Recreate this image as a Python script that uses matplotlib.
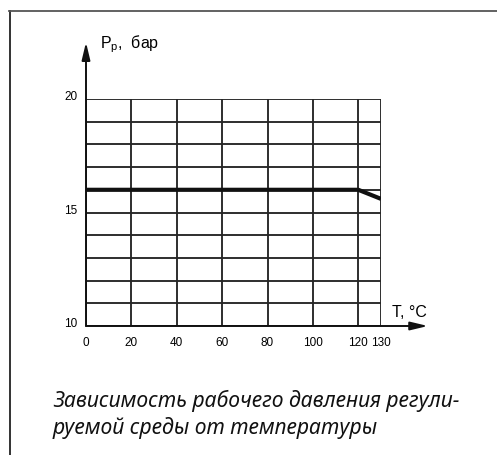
import matplotlib
matplotlib.use('Agg')
import numpy as np
import matplotlib.pyplot as plt

# данные графика
temp = [0, 20, 40, 60, 80, 100, 120, 130]
pressure = [16, 16, 16, 16, 16, 16, 16, 15.6]
x_ticks = [0, 20, 40, 60, 80, 100, 120, 130]
y_ticks = [10, 15, 20]
y_grid = list(range(10, 21))

plt.rcParams['font.family'] = ['Liberation Sans', 'DejaVu Sans']
plt.rcParams['mathtext.fontset'] = 'custom'
plt.rcParams['mathtext.rm'] = 'Liberation Sans'

fig = plt.figure(figsize=(4.97, 4.56), dpi=100)

# рамка
fig.add_artist(plt.Line2D([9.5 / 497, 9.5 / 497], [0, 1 - 12 / 456], color='#222222', lw=1.3))
fig.add_artist(plt.Line2D([9 / 497, 1], [1 - 12 / 456, 1 - 12 / 456], color='#555555', lw=1.3))

ax = fig.add_axes([86 / 497, 1 - 327 / 456, 295 / 497, 227 / 456])
ax.set_xlim(0, 130)
ax.set_ylim(10, 20)
ax.axis('off')

grid_c = '#262626'
for y in y_grid:
    ax.plot([0, 130], [y, y], color=grid_c, lw=1.35, solid_capstyle='projecting')
for x in x_ticks:
    ax.plot([x, x], [10, 20], color=grid_c, lw=1.35, solid_capstyle='projecting')

# оси со стрелками
arrow = dict(arrowstyle='-|>,head_length=1.05,head_width=0.25',
             color='#111111', lw=1.4, shrinkA=0, shrinkB=0)
ax.annotate('', xy=(0, 22.5), xytext=(0, 10), arrowprops=arrow, annotation_clip=False)
ax.annotate('', xy=(150.7, 10), xytext=(0, 10), arrowprops=arrow, annotation_clip=False)

ax.plot(temp, pressure, color='#111111', lw=3.0, solid_capstyle='butt', zorder=5)

for x in x_ticks:
    ax.text(x, 9.3, str(x), ha='center', va='center', fontsize=8.5)
for y in y_ticks:
    ax.text(-3.8, y + 0.12, str(y), ha='right', va='center', fontsize=8.5)

ax.text(6, 22.45, r'P$_{\rm p}$,  бар', ha='left', va='center', fontsize=11.5)
ax.text(135, 10.65, 'T, °C', ha='left', va='center', fontsize=11.5)

cap_font = dict(ha='left', va='baseline', fontsize=15.2, style='italic',
                family=['Noto Sans', 'DejaVu Sans'], color='#111111')
fig.text(53 / 497, 1 - 407 / 456, 'Зависимость рабочего давления регули-', **cap_font)
fig.text(53 / 497, 1 - 434 / 456, 'руемой среды от температуры', **cap_font)

fig.savefig('out.png', dpi=100)
